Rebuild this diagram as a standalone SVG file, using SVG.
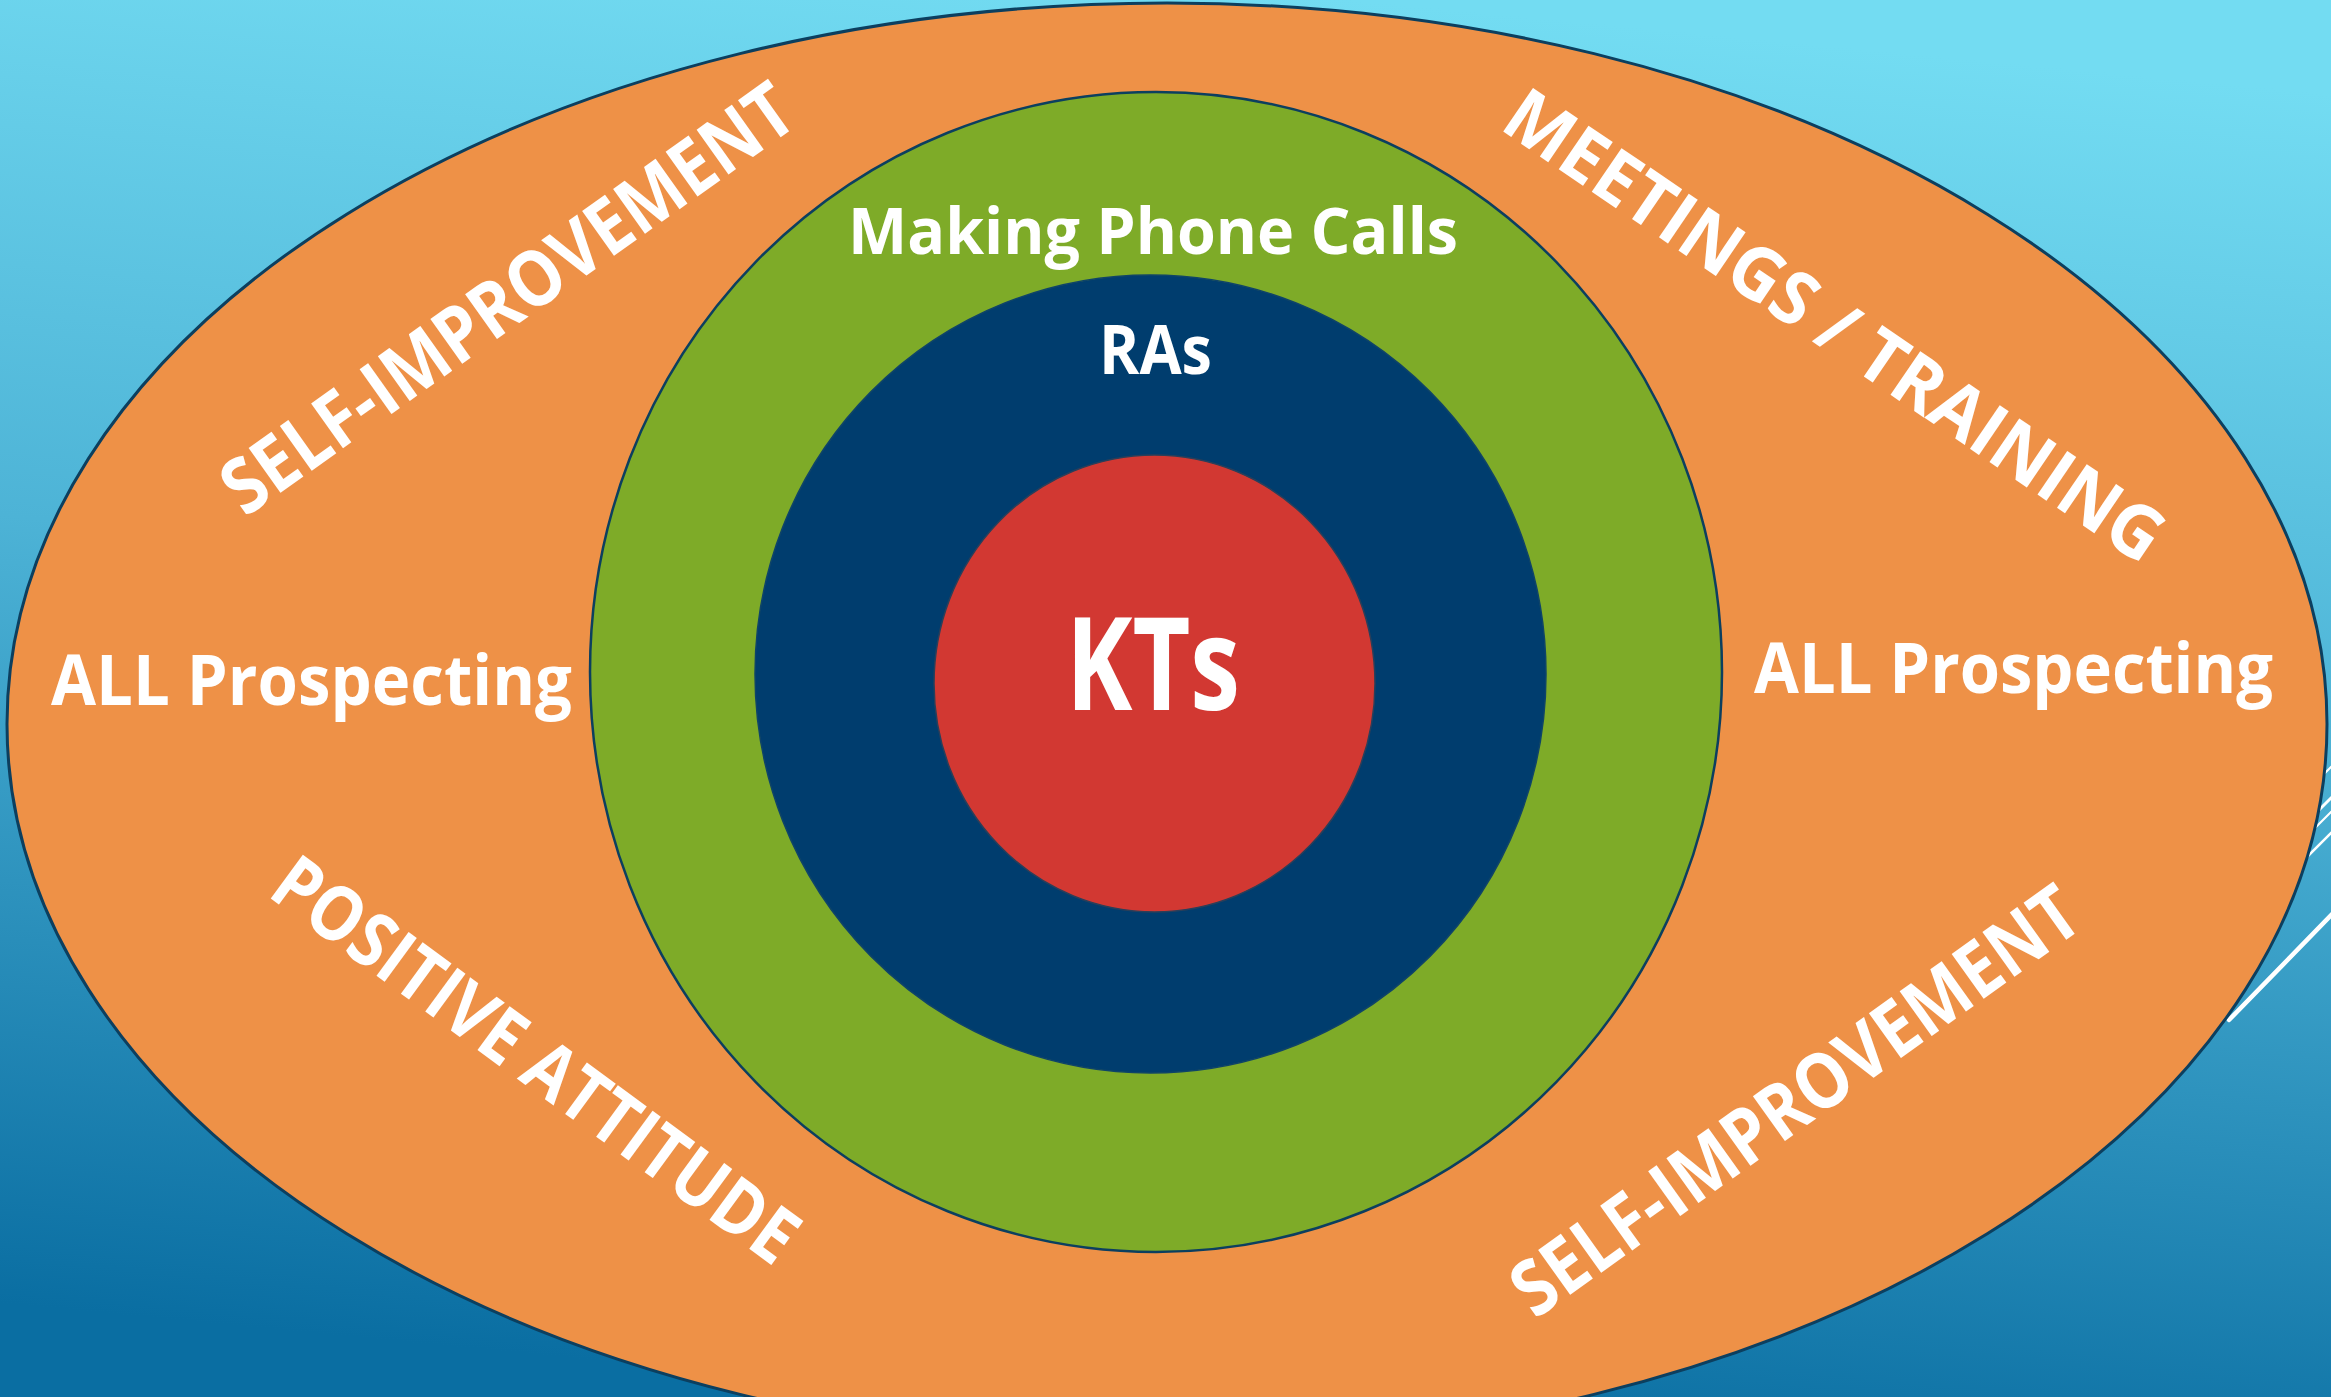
<svg xmlns="http://www.w3.org/2000/svg" width="2331" height="1397" viewBox="0 0 2331 1397">
  <defs>
    <linearGradient id="bg" x1="0.58" y1="0" x2="0.42" y2="1">
      <stop offset="0" stop-color="#73dcf2"/>
      <stop offset="0.45" stop-color="#4db3d6"/>
      <stop offset="1" stop-color="#0a6ea2"/>
    </linearGradient>
    <style>
      .lbl { font-family: "Open Sans", "Liberation Sans", sans-serif; font-weight: 700; fill: #ffffff; }
      .ring { stroke: #0c3f5f; }
      .deco { stroke: #ffffff; stroke-linecap: round; fill: none; }
    </style>
  </defs>

  <!-- backdrop -->
  <rect id="backdrop" x="0" y="0" width="2331" height="1397" fill="url(#bg)"/>

  <!-- theme accent lines at the right edge -->
  <g id="accent-lines">
    <line class="deco" x1="2345" y1="753" x2="2290" y2="808" stroke-width="2"/>
    <line class="deco" x1="2345" y1="784" x2="2290" y2="839" stroke-width="3"/>
    <line class="deco" x1="2345" y1="798" x2="2290" y2="853" stroke-width="2"/>
    <line class="deco" x1="2345" y1="819" x2="2290" y2="874" stroke-width="2.5"/>
    <line class="deco" x1="2340" y1="906" x2="2229" y2="1020" stroke-width="4.5"/>
  </g>

  <!-- outer ring -->
  <g id="outer-ring">
    <ellipse cx="1167" cy="724" rx="1160" ry="721" fill="#ee9147" class="ring" stroke-width="3"/>
    <text class="lbl" font-size="77" textLength="682" lengthAdjust="spacingAndGlyphs" transform="translate(245 518) rotate(-35.4)">SELF-IMPROVEMENT</text>
    <text class="lbl" font-size="74" textLength="779" lengthAdjust="spacingAndGlyphs" transform="translate(1498 128) rotate(34.2)">MEETINGS / TRAINING</text>
    <text class="lbl" font-size="76" textLength="630" lengthAdjust="spacingAndGlyphs" transform="translate(266 895) rotate(36.2)">POSITIVE ATTITUDE</text>
    <text class="lbl" font-size="77" textLength="678" lengthAdjust="spacingAndGlyphs" transform="translate(1535 1320) rotate(-35.6)">SELF-IMPROVEMENT</text>
    <text class="lbl" font-size="70" x="51" y="705" textLength="521" lengthAdjust="spacingAndGlyphs">ALL Prospecting</text>
    <text class="lbl" font-size="70" x="1754" y="693" textLength="519" lengthAdjust="spacingAndGlyphs">ALL Prospecting</text>
  </g>

  <!-- green ring -->
  <g id="phone-calls">
    <ellipse cx="1156" cy="672" rx="566" ry="580" fill="#7eab28" class="ring" stroke-width="2.5"/>
    <text class="lbl" font-size="64" x="848" y="254" textLength="610" lengthAdjust="spacingAndGlyphs">Making Phone Calls</text>
  </g>

  <!-- navy ring -->
  <g id="ras">
    <ellipse cx="1150.5" cy="674" rx="395.5" ry="399" fill="#003d6e" stroke="#0f4468" stroke-width="1.5"/>
    <text class="lbl" font-size="68" x="1099" y="374" textLength="113" lengthAdjust="spacingAndGlyphs">RAs</text>
  </g>

  <!-- red core -->
  <g id="kts">
    <ellipse cx="1154.5" cy="683.5" rx="220.5" ry="228.5" fill="#d23832" stroke="#2a3f5a" stroke-width="1.5"/>
    <text class="lbl" font-size="129" x="1066" y="710" textLength="174" lengthAdjust="spacingAndGlyphs">KTs</text>
  </g>
</svg>
